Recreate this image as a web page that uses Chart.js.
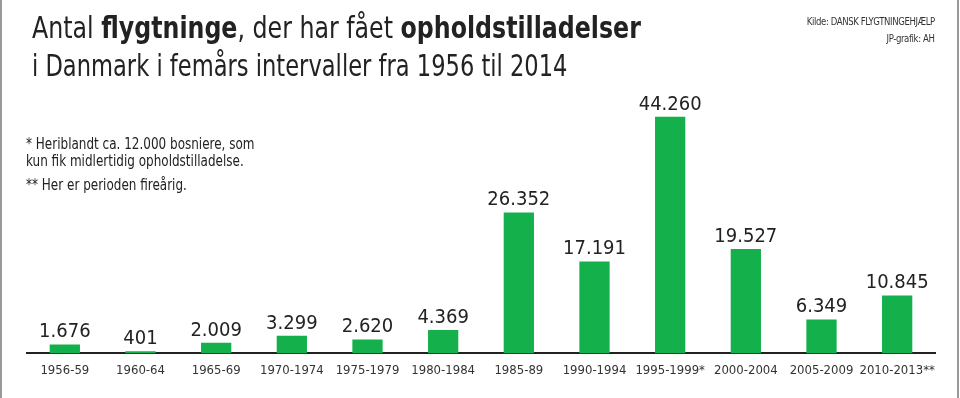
<!DOCTYPE html>
<html>
<head>
<meta charset="utf-8">
<script src="https://cdn.jsdelivr.net/npm/chart.js@4"></script>
<style>
  html, body { margin: 0; padding: 0; background: #fff; }
  #wrap { position: relative; width: 960px; height: 398px; overflow: hidden; }
  #wrap canvas { position: absolute; left: 0; top: 0; }
  .txt { position: absolute; color: #222; font-family: "DejaVu Sans Condensed", "Liberation Sans Narrow", sans-serif; white-space: nowrap; transform-origin: 0 0; }
  .titel { left: 32px; font-size: 31px; line-height: 34px; }
  .titel b { font-weight: bold; }
  .kilde { right: 25px; font-size: 10px; color: #333; letter-spacing: -0.4px; transform-origin: 100% 0; transform: scaleX(0.95); }
  .note { left: 26px; font-size: 15px; line-height: 17px; transform: scaleX(0.89); }
  .kant { position: absolute; top: 0; bottom: 0; width: 2px; background: #999; }
</style>
</head>
<body>
<div id="wrap">
  <canvas id="grafik" width="960" height="398"></canvas>
  <div class="kant" style="left:0"></div>
  <div class="kant" style="left:957px"></div>
  <div class="txt titel" style="top:10px; transform: scaleX(0.85)">Antal <b>flygtninge</b>, der har fået <b>opholdstilladelser</b></div>
  <div class="txt titel" style="top:48px; transform: scaleX(0.81)">i Danmark i femårs intervaller fra 1956 til 2014</div>
  <div class="txt kilde" style="top:16px">Kilde: DANSK FLYGTNINGEHJÆLP</div>
  <div class="txt kilde" style="top:33px">JP-grafik: AH</div>
  <div class="txt note" style="top:136px">* Heriblandt ca. 12.000 bosniere, som<br>kun fik midlertidig opholdstilladelse.</div>
  <div class="txt note" style="top:177px">** Her er perioden fireårig.</div>
</div>
<script>
const perioder = ['1956-59', '1960-64', '1965-69', '1970-1974', '1975-1979', '1980-1984',
    '1985-89', '1990-1994', '1995-1999*', '2000-2004', '2005-2009', '2010-2013**'];
const antal = [1676, 401, 2009, 3299, 2620, 4369, 26352, 17191, 44260, 19527, 6349, 10845];

const fontNavn = '"DejaVu Sans Condensed", "Liberation Sans Narrow", sans-serif';

function formaterTal(v) {
    return String(v).replace(/\B(?=(\d{3})+(?!\d))/g, '.');
}

// tal over søjlerne
const talPlugin = {
    id: 'talOverSoejler',
    afterDatasetsDraw(chart) {
        const ctx = chart.ctx;
        const meta = chart.getDatasetMeta(0);
        ctx.save();
        ctx.font = '20px ' + fontNavn;
        ctx.fillStyle = '#222';
        ctx.textAlign = 'center';
        ctx.textBaseline = 'alphabetic';
        meta.data.forEach((bar, i) => {
            ctx.fillText(formaterTal(antal[i]), bar.x, bar.y - 7);
        });
        ctx.restore();
    }
};

const ctx = document.getElementById('grafik').getContext('2d');
new Chart(ctx, {
    type: 'bar',
    data: {
        labels: perioder,
        datasets: [{
            data: antal,
            backgroundColor: '#13b04b',
            borderWidth: 0,
            categoryPercentage: 1,
            barPercentage: 0.4
        }]
    },
    options: {
        responsive: false,
        animation: false,
        layout: { padding: { left: 27, right: 25, top: 86, bottom: 19 } },
        plugins: { legend: { display: false }, tooltip: { enabled: false } },
        scales: {
            x: {
                grid: { display: false },
                border: { display: true, color: '#222', width: 2 },
                ticks: { color: '#333', font: { family: fontNavn, size: 13 }, padding: 1, maxRotation: 0, autoSkip: false }
            },
            y: { display: false, min: 0, max: 50000 }
        }
    },
    plugins: [talPlugin]
});
</script>
</body>
</html>
